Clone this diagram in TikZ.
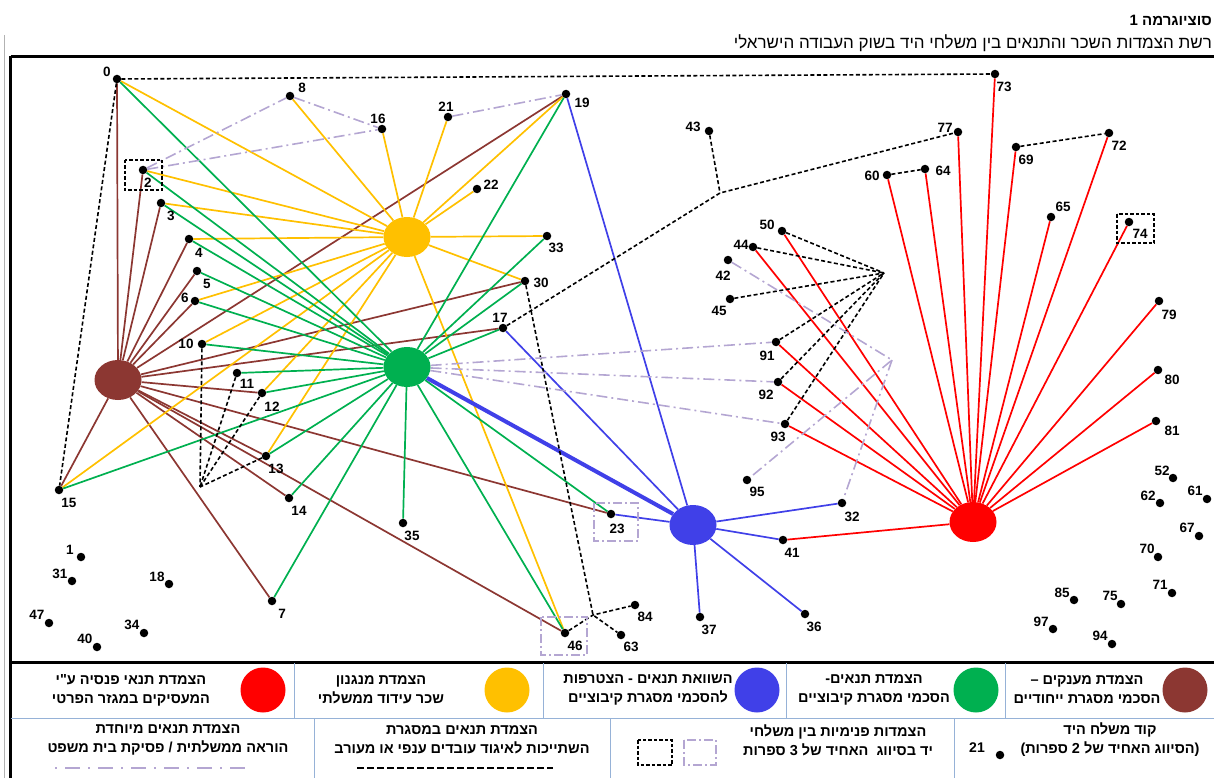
\documentclass[tikz,border=0pt]{standalone}
\usepackage{fontspec}
\setmainfont{Liberation Sans}
\newfontfamily\heb[Script=Hebrew]{Liberation Sans}
\newfontfamily\lat{Liberation Sans}
\TeXXeTstate=1
\usetikzlibrary{shapes.geometric}
\pgfdeclarelayer{bg}
\pgfsetlayers{bg,main}
\definecolor{cbrown}{RGB}{140,55,50}
\definecolor{cyellow}{RGB}{255,192,0}
\definecolor{cgreen}{RGB}{0,176,80}
\definecolor{cblue}{RGB}{64,64,232}
\definecolor{cred}{RGB}{255,0,0}
\definecolor{clav}{RGB}{180,166,210}
\definecolor{cdiv}{RGB}{150,178,215}
\newcommand\mkdot[5]{\node[pt] (n#1) at (#2,#3) {}; \node[lab] (l#1) at (#4,#5) {#1};}
\begin{document}
\begin{tikzpicture}[x=1pt,y=-1pt,
  pt/.style={circle,fill=black,inner sep=0pt,minimum size=8.5pt},
  lab/.style={font=\lat\bfseries\fontsize{13.5}{13.5}\selectfont,inner sep=0pt},
  hub/.style={ellipse,inner sep=0pt,minimum width=47pt,minimum height=40pt},
  lbr/.style={cbrown,line width=1.7pt},
  lye/.style={cyellow,line width=1.7pt},
  lgr/.style={cgreen,line width=1.7pt},
  lbl/.style={cblue,line width=1.7pt},
  lre/.style={cred,line width=1.7pt},
  blk/.style={black,line width=1.6pt,dash pattern=on 4pt off 2.5pt},
  lav/.style={clav,line width=1.6pt,dash pattern=on 11pt off 4pt on 2pt off 4pt},
  legc/.style={circle,inner sep=0pt,minimum size=45pt},
  legt/.style={font=\heb\bfseries\fontsize{14.5}{19}\selectfont,align=center,inner sep=0pt},
  divl/.style={cdiv,line width=0.8pt}
]
\useasboundingbox (0,0) rectangle (1214,778);
\clip (0,0) rectangle (1214,778);

% title
\node[anchor=east,font=\heb\bfseries\fontsize{15}{15}\selectfont,inner sep=0pt] (title1) at (1212,20) {\beginR סוציוגרמה 1\endR};
\node[anchor=east,font=\heb\fontsize{17}{17}\selectfont,inner sep=0pt] (title2) at (1212,43) {\beginR רשת הצמדות השכר והתנאים בין משלחי היד בשוק העבודה הישראלי\endR};

% frame
\draw[gray!60,line width=0.6pt] (4,35) -- (4,778);
\draw[black,line width=3pt] (10.5,57) -- (1214,57);
\draw[black,line width=3pt] (10.5,56) -- (10.5,778);
\draw[black,line width=3pt] (10.5,662) -- (1214,662);

% hubs
\node[hub,fill=cbrown] (B) at (118,380) {};
\node[hub,fill=cyellow] (Y) at (407,237) {};
\node[hub,fill=cgreen] (G) at (407,367) {};
\node[hub,fill=cblue] (U) at (693,525) {};
\node[hub,fill=cred] (R) at (973,522) {};

% occupation dots
\mkdot{0}{117}{79}{107}{72}
\mkdot{8}{290}{96}{302}{88}
\mkdot{16}{382}{129}{378}{119}
\mkdot{21}{448}{117}{446}{107}
\mkdot{19}{566}{94}{582}{103}
\mkdot{22}{477}{189}{491}{185}
\mkdot{33}{547}{236}{556}{248}
\mkdot{30}{525}{281}{541}{283}
\mkdot{17}{503}{328}{500}{318}
\mkdot{43}{709}{131}{693}{127}
\mkdot{73}{995}{74}{1004}{87}
\mkdot{77}{958}{132}{945}{128}
\mkdot{60}{887}{175}{872}{176}
\mkdot{64}{925}{169}{943}{171}
\mkdot{69}{1016}{147}{1026}{160}
\mkdot{72}{1109}{133}{1119}{146}
\mkdot{65}{1051}{217}{1063}{207}
\mkdot{74}{1129}{222}{1140}{234}
\mkdot{79}{1159}{301}{1169}{315}
\mkdot{80}{1158}{370}{1172}{380}
\mkdot{81}{1156}{421}{1172}{431}
\mkdot{52}{1173}{478}{1162}{471}
\mkdot{61}{1207}{499}{1195}{491}
\mkdot{62}{1160}{503}{1148}{496}
\mkdot{67}{1199}{536}{1187}{528}
\mkdot{70}{1158}{557}{1147}{549}
\mkdot{71}{1172}{593}{1160}{585}
\mkdot{85}{1074}{600}{1062}{593}
\mkdot{75}{1121}{604}{1110}{596}
\mkdot{97}{1053}{629}{1041}{622}
\mkdot{94}{1112}{644}{1100}{636}
\mkdot{50}{782}{231}{767}{225}
\mkdot{44}{753}{247}{741}{245}
\mkdot{42}{728}{260}{723}{276}
\mkdot{45}{730}{299}{719}{311}
\mkdot{91}{776}{342}{767}{356}
\mkdot{92}{778}{382}{766}{395}
\mkdot{93}{785}{424}{778}{437}
\mkdot{95}{747}{480}{757}{492}
\mkdot{32}{842}{503}{852}{517}
\mkdot{41}{783}{540}{792}{553}
\mkdot{36}{805}{614}{814}{627}
\mkdot{37}{700}{617}{709}{630}
\mkdot{23}{611}{514}{617}{529}
\mkdot{46}{565}{633}{575}{646}
\mkdot{84}{635}{605}{645}{617}
\mkdot{63}{621}{635}{631}{647}
\mkdot{35}{403}{523}{412}{536}
\mkdot{14}{289}{498}{299}{511}
\mkdot{13}{266}{456}{276}{469}
\mkdot{12}{262}{393}{272}{407}
\mkdot{11}{237}{373}{247}{384}
\mkdot{10}{202}{344}{186}{344}
\mkdot{7}{272}{601}{282}{614}
\mkdot{15}{59}{490}{69}{503}
\mkdot{1}{81}{557}{70}{550}
\mkdot{31}{72}{581}{60}{574}
\mkdot{18}{169}{584}{157}{577}
\mkdot{47}{49}{623}{37}{615}
\mkdot{34}{144}{633}{132}{625}
\mkdot{40}{97}{647}{85}{639}
\mkdot{2}{143}{170}{148}{183}
\mkdot{3}{161}{203}{171}{216}
\mkdot{4}{189}{239}{199}{253}
\mkdot{5}{197}{271}{207}{284}
\mkdot{6}{195}{301}{185}{298}

% junction points
\coordinate (J1) at (720,193);
\coordinate (J2) at (892,360);
\coordinate (J3) at (200,487);
\coordinate (J4) at (884,273);
\coordinate (X) at (593,615);

\begin{pgfonlayer}{bg}
\foreach \t in {0,2,3,4,5,6,19,30,17,12,13,14,23,46,7,15} \draw[lbr] (B) -- (n\t);
\foreach \t in {0,8,16,21,19,22,33,30,2,3,4,6,10,12,13,15,46} \draw[lye] (Y) -- (n\t);
\foreach \t in {0,2,3,4,5,6,10,11,12,13,14,15,7,35,46,23,19,33,30,17} \draw[lgr] (G) -- (n\t);
\foreach \t in {19,17,23,32,41,37,36} \draw[lbl] (U) -- (n\t);
\draw[cblue,line width=4pt] (G) -- (U);
\foreach \t in {60,64,77,73,69,72,65,74,79,80,81,41,50,44,91,92,93} \draw[lre] (R) -- (n\t);
% black dashed
\draw[blk] (n0) -- (n73);
\draw[blk] (n0) -- (n15);
\draw[blk] (n17) -- (J1) -- (n77);
\draw[blk] (n43) -- (J1);
\draw[blk] (n60) -- (n64);
\draw[blk] (n69) -- (n72);
\draw[blk] (n30) -- (X) -- (n63);
\draw[blk] (n46) -- (X) -- (n84);
\foreach \t in {10,11,12,13} \draw[blk] (n\t) -- (J3);
\foreach \t in {50,44,45,91,92,93} \draw[blk] (n\t) -- (J4);
% lavender dash-dot
\draw[lav] (n2) -- (n8);
\draw[lav] (n2) -- (n16);
\draw[lav] (n8) -- (n16);
\draw[lav] (n21) -- (n19);
\foreach \t in {91,92,93} \draw[lav] (G) -- (n\t);
\draw[lav] (n42) -- (J2) -- (n95);
\draw[lav] (J2) -- (n32);
\end{pgfonlayer}

% boxes
\draw[black,line width=1.3pt,dash pattern=on 3.5pt off 2pt] (125,160) rectangle (162,190);
\draw[black,line width=1.3pt,dash pattern=on 3.5pt off 2pt] (1117,214) rectangle (1154,243);
\draw[clav,line width=1.3pt,dash pattern=on 9pt off 3pt on 2pt off 3pt] (594,503) rectangle (638,541);
\draw[clav,line width=1.3pt,dash pattern=on 9pt off 3pt on 2pt off 3pt] (541,617) rectangle (587,655);

% legend grid
\draw[divl] (10.5,718) -- (1214,718);
\foreach \xx in {294,543,786,1005} \draw[divl] (\xx,663) -- (\xx,718);
\foreach \xx in {314,610,954} \draw[divl] (\xx,718) -- (\xx,778);

% legend row 1
\node[legc,fill=cred] (kR) at (263,690) {};
\node[legt] (tR) at (131,690) {\beginR הצמדת תנאי פנסיה ע"י\endR\\\beginR המעסיקים במגזר הפרטי\endR};
\node[legc,fill=cyellow] (kY) at (507,690) {};
\node[legt] (tY) at (381,690) {\beginR הצמדת מנגנון\endR\\\beginR שכר עידוד ממשלתי\endR};
\node[legc,fill=cblue] (kU) at (757,690) {};
\node[legt] (tU) at (648,690) {\beginR השוואת תנאים - הצטרפות\endR\\\beginR להסכמי מסגרת קיבוציים\endR};
\node[legc,fill=cgreen] (kG) at (976,690) {};
\node[legt] (tG) at (874,690) {\beginR הצמדת תנאים-\endR\\\beginR הסכמי מסגרת קיבוציים\endR};
\node[legc,fill=cbrown] (kB) at (1185,690) {};
\node[legt] (tB) at (1087,690) {\beginR הצמדת מענקים –\endR\\\beginR הסכמי מסגרת ייחודיים\endR};

% legend row 2
\node[legt] (t5) at (168,740) {\beginR הצמדת תנאים מיוחדת\endR\\\beginR הוראה ממשלתית / פסיקת בית משפט\endR};
\coordinate (s5a) at (55,768); \coordinate (s5b) at (250,768);
\draw[clav,line width=1.5pt,dash pattern=on 2pt off 8pt on 15pt off 8pt] (s5a) -- (s5b);
\node[legt] (t6) at (462,740) {\beginR הצמדת תנאים במסגרת\endR\\\beginR השתייכות לאיגוד עובדים ענפי או מעורב\endR};
\coordinate (s6a) at (357,768); \coordinate (s6b) at (553,768);
\draw[black,line width=2pt,dash pattern=on 7pt off 3pt] (s6a) -- (s6b);
\node[legt] (t7) at (838,740) {\beginR הצמדות פנימיות בין משלחי\endR\\\beginR יד בסיווג \ האחיד של 3 ספרות\endR};
\draw[black,line width=1.3pt,dash pattern=on 3.5pt off 2pt] (638,740) rectangle (672,765);
\draw[clav,line width=1.3pt,dash pattern=on 9pt off 3pt on 2pt off 3pt] (684,740) rectangle (716,765);
\node[legt] (t8) at (1110,740) {\beginR קוד משלח היד\endR\\{\lat(}\beginR הסיווג האחיד של 2 ספרות\endR{\lat)}};
\node[lab,font=\lat\bfseries\fontsize{14}{14}\selectfont] (k21) at (977,748) {21};
\node[pt] (kdot) at (1000,755) {};
\end{tikzpicture}
\end{document}
